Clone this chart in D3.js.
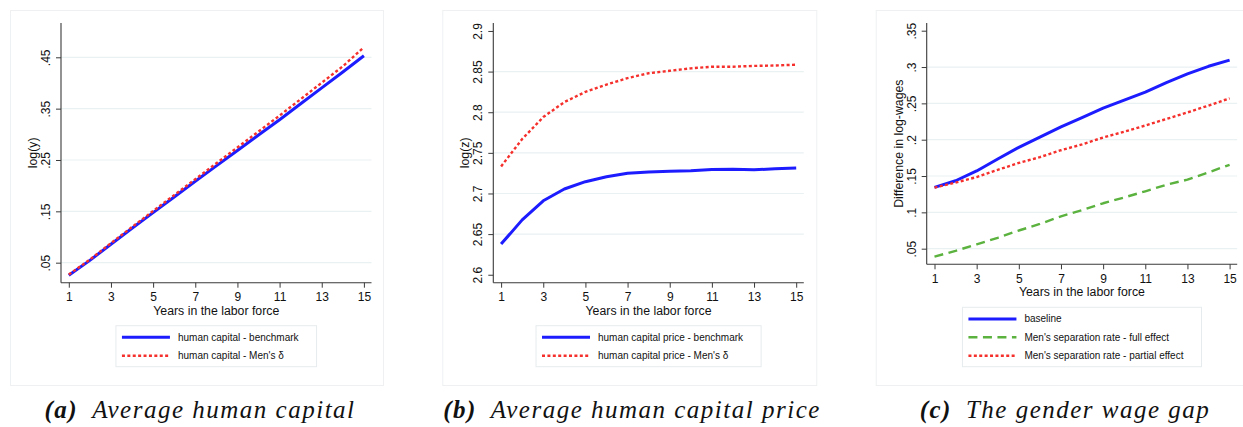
<!DOCTYPE html>
<html>
<head>
<meta charset="utf-8">
<script src="https://cdn.jsdelivr.net/npm/d3@7"></script>
<style>
  body { margin: 0; background: #fff; }
  svg { display: block; }
  .sans { font-family: "Liberation Sans", Arial, Helvetica, sans-serif; }
  .caption { font-family: "Liberation Serif", "Times New Roman", serif; font-style: italic; }
</style>
</head>
<body>
<svg id="chart" width="1243" height="427"></svg>
<script>
// ---- data ----------------------------------------------------------------
const years = [1, 2, 3, 4, 5, 6, 7, 8, 9, 10, 11, 12, 13, 14, 15];
const xTicks = [1, 3, 5, 7, 9, 11, 13, 15];

// (a) average human capital, log(y)
const capitalBenchmark = [0.0255, 0.0545, 0.086, 0.117, 0.1475, 0.178, 0.2085, 0.2385,
                          0.2685, 0.2985, 0.3285, 0.3595, 0.3905, 0.4215, 0.453];
const capitalMensDelta = [0.027, 0.056, 0.088, 0.1195, 0.1505, 0.1815, 0.2125, 0.2435,
                          0.2745, 0.3055, 0.3365, 0.3685, 0.4005, 0.4325, 0.4695];
const yTicksA = [0.05, 0.15, 0.25, 0.35, 0.45];
const yTickLabelsA = [".05", ".15", ".25", ".35", ".45"];

// (b) average human capital price, log(z)
const priceBenchmark = [2.6377, 2.6675, 2.691, 2.7055, 2.7145, 2.7205, 2.725, 2.7265,
                        2.7275, 2.728, 2.7295, 2.7298, 2.7292, 2.7303, 2.7313];
const priceMensDelta = [2.7333, 2.767, 2.794, 2.8125, 2.825, 2.834, 2.842, 2.848,
                        2.851, 2.854, 2.856, 2.856, 2.857, 2.8575, 2.8585];
const yTicksB = [2.6, 2.65, 2.7, 2.75, 2.8, 2.85, 2.9];
const yTickLabelsB = ["2.6", "2.65", "2.7", "2.75", "2.8", "2.85", "2.9"];

// (c) gender wage gap, difference in log-wages
const gapBaseline = [0.1343, 0.1435, 0.157, 0.1735, 0.1895, 0.2035, 0.2175, 0.2305,
                     0.2435, 0.2545, 0.2655, 0.2785, 0.2905, 0.301, 0.3095];
const gapFullEffect = [0.039, 0.047, 0.056, 0.065, 0.075, 0.084, 0.0945, 0.103,
                       0.1125, 0.1205, 0.129, 0.138, 0.145, 0.155, 0.1655];
const gapPartialEffect = [0.134, 0.141, 0.1485, 0.1585, 0.168, 0.176, 0.1855, 0.1935,
                          0.203, 0.211, 0.2195, 0.2285, 0.2375, 0.247, 0.257];
const yTicksC = [0.05, 0.1, 0.15, 0.2, 0.25, 0.3, 0.35];
const yTickLabelsC = [".05", ".1", ".15", ".2", ".25", ".3", ".35"];

// ---- styles --------------------------------------------------------------
const solidBlue = { color: "#1c1cff", width: 3, dash: null };
const dottedRed = { color: "#f5302c", width: 2.4, dash: "3,2.4" };
const dashedGreen = { color: "#5bb23e", width: 2.4, dash: "9,5.5" };

const GRID = "#e9f1f2";
const AXIS = "#3a3a3a";
const FRAME = "#eef0f1";

const svg = d3.select("#chart");

function drawPanel(cfg) {
  const g = svg.append("g");
  const left = cfg.left;
  const axX = left + 51, axEnd = left + 361.5;
  const top = 23, bottom = cfg.axisY;

  // panel frame
  g.append("rect")
    .attr("x", left + 0.5).attr("y", 10.5)
    .attr("width", cfg.frameW).attr("height", 375)
    .attr("fill", "#fff").attr("stroke", FRAME);

  const x = d3.scaleLinear().domain([1, 15]).range([axX + 7.8, axEnd - 7.6]);
  const y = d3.scaleLinear().domain(cfg.yDomain).range([bottom, top]);

  // horizontal grid
  g.append("g").selectAll("line")
    .data(cfg.grid)
    .join("line")
    .attr("x1", axX).attr("x2", axEnd)
    .attr("y1", d => y(d)).attr("y2", d => y(d))
    .attr("stroke", GRID).attr("stroke-width", 1.2);

  // y axis
  const yAxis = d3.axisLeft(y)
    .tickValues(cfg.yTicks)
    .tickFormat((d, i) => cfg.yLabels[i])
    .tickSize(5).tickSizeOuter(0);
  const ya = g.append("g").attr("transform", `translate(${axX},0)`).call(yAxis);
  ya.select(".domain").attr("d", `M0,${top}V${bottom}`).attr("stroke", AXIS);
  ya.selectAll(".tick line").attr("stroke", AXIS);
  ya.selectAll(".tick text")
    .attr("class", "sans")
    .attr("font-size", 12).attr("fill", "#111")
    .attr("x", null).attr("dy", null)
    .attr("text-anchor", "middle")
    .attr("transform", "translate(-15.5,0) rotate(-90)")
    .attr("y", 0).attr("dy", "0.36em");

  // x axis
  const xAxis = d3.axisBottom(x)
    .tickValues(xTicks)
    .tickFormat(d3.format("d"))
    .tickSize(5).tickSizeOuter(0);
  const xa = g.append("g").attr("transform", `translate(0,${bottom})`).call(xAxis);
  xa.select(".domain").attr("d", `M${axX},0H${axEnd}`).attr("stroke", AXIS);
  xa.selectAll(".tick line").attr("stroke", AXIS);
  xa.selectAll(".tick text")
    .attr("class", "sans")
    .attr("font-size", 12).attr("fill", "#111")
    .attr("y", 18.5).attr("dy", null);
  svg.selectAll(".domain").attr("stroke-width", 1.1);

  // axis titles
  g.append("text").attr("class", "sans")
    .attr("x", (axX + axEnd) / 2).attr("y", bottom + 32)
    .attr("text-anchor", "middle").attr("font-size", 12.3).attr("fill", "#111")
    .text("Years in the labor force");
  g.append("text").attr("class", "sans")
    .attr("transform", `translate(${axX - 28.5},${(top + bottom) / 2}) rotate(-90)`)
    .attr("dy", "0.36em")
    .attr("text-anchor", "middle").attr("font-size", 12.3).attr("fill", "#111")
    .text(cfg.yTitle);

  // series lines
  const line = d3.line().x((d, i) => x(years[i])).y(d => y(d));
  cfg.series.forEach(s => {
    g.append("path")
      .attr("d", line(s.values))
      .attr("fill", "none")
      .attr("stroke", s.style.color)
      .attr("stroke-width", s.style.width)
      .attr("stroke-dasharray", s.style.dash)
      .attr("stroke-linejoin", "round");
  });

  // legend
  const lg = g.append("g");
  const rowH = 18.4;
  const order = cfg.legendOrder.map(i => cfg.series[i]);
  const labels = lg.selectAll("text")
    .data(order)
    .join("text")
    .attr("class", "sans")
    .attr("font-size", 10).attr("fill", "#111")
    .attr("dy", "0.35em")
    .text(d => d.label);
  let maxW = 0;
  labels.each(function () { maxW = Math.max(maxW, this.getComputedTextLength()); });
  const boxW = 6 + 48 + 8 + maxW + 18;
  const boxTop = bottom + 43;
  const boxH = 11.6 + rowH * (order.length - 1) + 11;
  const boxL = (axX + axEnd) / 2 - boxW / 2;
  lg.insert("rect", "text")
    .attr("x", boxL).attr("y", boxTop)
    .attr("width", boxW).attr("height", boxH)
    .attr("fill", "#fff").attr("stroke", "#e6ebed");
  labels.attr("x", boxL + 62).attr("y", (d, i) => boxTop + 11.6 + i * rowH);
  lg.selectAll("line")
    .data(order)
    .join("line")
    .attr("x1", boxL + 6).attr("x2", boxL + 54)
    .attr("y1", (d, i) => boxTop + 11.6 + i * rowH)
    .attr("y2", (d, i) => boxTop + 11.6 + i * rowH)
    .attr("stroke", d => d.style.color)
    .attr("stroke-width", d => d.style.width)
    .attr("stroke-dasharray", d => d.style.dash);

  // caption
  const cap = g.append("text").attr("class", "caption")
    .attr("x", cfg.captionX).attr("y", 417.5)
    .attr("text-anchor", "middle").attr("font-size", 25)
    .attr("letter-spacing", 1.5).attr("fill", "#111");
  cap.append("tspan").attr("font-weight", "bold").text(cfg.captionTag);
  cap.append("tspan").text("\u2002" + cfg.caption);
}

drawPanel({
  left: 10, frameW: 373, axisY: 282.7,
  yDomain: [0.011, 0.5168],
  yTicks: yTicksA, yLabels: yTickLabelsA, grid: yTicksA,
  yTitle: "log(y)",
  series: [
    { values: capitalBenchmark, style: solidBlue, label: "human capital - benchmark" },
    { values: capitalMensDelta, style: dottedRed, label: "human capital - Men's \u03b4" }
  ],
  legendOrder: [0, 1],
  captionX: 200, captionTag: "(a)", caption: "Average human capital"
});

drawPanel({
  left: 442.3, frameW: 374, axisY: 282.7,
  yDomain: [2.5902, 2.9098],
  yTicks: yTicksB, yLabels: yTickLabelsB, grid: [2.65, 2.7, 2.75, 2.8, 2.85],
  yTitle: "log(z)",
  series: [
    { values: priceBenchmark, style: solidBlue, label: "human capital price - benchmark" },
    { values: priceMensDelta, style: dottedRed, label: "human capital price - Men's \u03b4" }
  ],
  legendOrder: [0, 1],
  captionX: 632, captionTag: "(b)", caption: "Average human capital price"
});

drawPanel({
  left: 875.7, frameW: 380, axisY: 264.3,
  yDomain: [0.0285, 0.3606],
  yTicks: yTicksC, yLabels: yTickLabelsC, grid: [0.05, 0.1, 0.15, 0.2, 0.25, 0.3],
  yTitle: "Difference in log-wages",
  series: [
    { values: gapBaseline, style: solidBlue, label: "baseline" },
    { values: gapFullEffect, style: dashedGreen, label: "Men's separation rate - full effect" },
    { values: gapPartialEffect, style: dottedRed, label: "Men's separation rate - partial effect" }
  ],
  legendOrder: [0, 1, 2],
  captionX: 1065, captionTag: "(c)", caption: "The gender wage gap"
});
</script>
</body>
</html>
